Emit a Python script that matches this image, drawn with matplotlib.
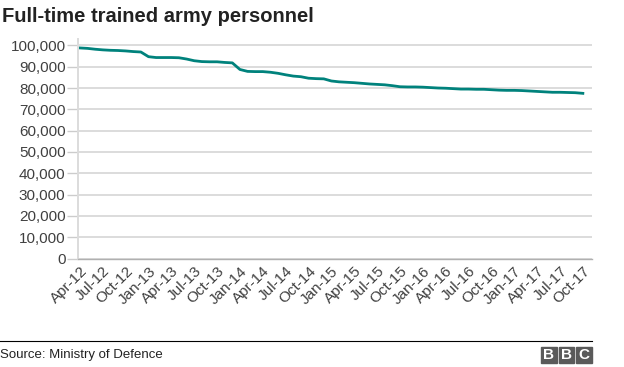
import numpy as np
import matplotlib
matplotlib.use("Agg")
import matplotlib.pyplot as plt
from matplotlib.patches import Rectangle

plt.rcParams['font.family'] = ['Liberation Sans', 'DejaVu Sans']

# Monthly full-time trained army strength, Apr 2012 - Oct 2017
personnel = [
    98800, 98600, 98200, 97900, 97700, 97600, 97400, 97100, 96900,   # Apr-12 .. Dec-12
    94700, 94300, 94300, 94300, 94200, 93600, 92800, 92400, 92300,   # Jan-13 .. Sep-13
    92300, 92000, 91800, 88700, 87800, 87700, 87700, 87400, 86900,   # Oct-13 .. Jun-14
    86200, 85600, 85300, 84600, 84400, 84300, 83300, 82900, 82700,   # Jul-14 .. Mar-15
    82500, 82200, 81900, 81700, 81500, 81100, 80600, 80500, 80500,   # Apr-15 .. Dec-15
    80400, 80200, 80000, 79900, 79700, 79500, 79500, 79400, 79400,   # Jan-16 .. Sep-16
    79200, 79000, 78900, 78900, 78800, 78600, 78400, 78200, 78000,   # Oct-16 .. Jun-17
    78000, 77900, 77800, 77500,                                      # Jul-17 .. Oct-17
]
tick_labels = ["Apr-12", "Jul-12", "Oct-12", "Jan-13", "Apr-13", "Jul-13", "Oct-13",
               "Jan-14", "Apr-14", "Jul-14", "Oct-14", "Jan-15", "Apr-15", "Jul-15",
               "Oct-15", "Jan-16", "Apr-16", "Jul-16", "Oct-16", "Jan-17", "Apr-17",
               "Jul-17", "Oct-17"]
y_ticks = list(range(0, 100001, 10000))

W, H = 624, 367
fig = plt.figure(figsize=(W / 100, H / 100), dpi=100)
ax = fig.add_axes([78 / W, 1 - 258.5 / H, (592 - 78) / W, (258.5 - 39) / H])

months = np.arange(len(personnel))
ax.plot(months, personnel, color="#00827c", lw=2.0, solid_joinstyle="round")

ax.set_xlim(-0.25, len(personnel) - 1 + 1.2)
ax.set_ylim(0, 103000)
ax.set_yticks(y_ticks)
ax.set_yticklabels([f"{v:,}" for v in y_ticks])
ax.set_xticks(months[::3])
ax.set_xticklabels(tick_labels, rotation=45, ha="right", va="top",
                   rotation_mode="anchor")

ax.grid(axis="y", color="#dcdcdc", lw=1.4)
ax.set_axisbelow(True)
for s in ["top", "right"]:
    ax.spines[s].set_visible(False)
ax.spines["left"].set_color("#dcdcdc")
ax.spines["left"].set_linewidth(1.4)
ax.spines["bottom"].set_color("#b0b0b0")
ax.spines["bottom"].set_linewidth(1.0)

ax.tick_params(axis="y", length=8, width=1, color="#cccccc", pad=1,
               labelsize=11, labelcolor="#404040")
ax.tick_params(axis="x", length=0, pad=4, labelsize=11, labelcolor="#404040")

fig.text(2 / W, 1 - 17 / H, "Full-time trained army personnel", fontsize=14.5,
         fontweight="bold", color="#222222", va="center", ha="left")

# footer
fig.add_artist(plt.Line2D([0, 592 / W], [1 - 341 / H, 1 - 341 / H],
                          color="#000000", lw=0.8, transform=fig.transFigure))
fig.text(0, 1 - 355 / H, "Source: Ministry of Defence", fontsize=9.5,
         color="#222222", va="center", ha="left")
for i, letter in enumerate("BBC"):
    x0 = 541 + i * 17.5
    fig.add_artist(Rectangle((x0 / W, 1 - 363 / H), 15.5 / W, 16 / H,
                             color="#5a5a5a", transform=fig.transFigure))
    fig.text((x0 + 7.75) / W, 1 - 355 / H, letter, fontsize=11, fontweight="bold",
             color="white", ha="center", va="center")

fig.savefig("out.png", dpi=100)
